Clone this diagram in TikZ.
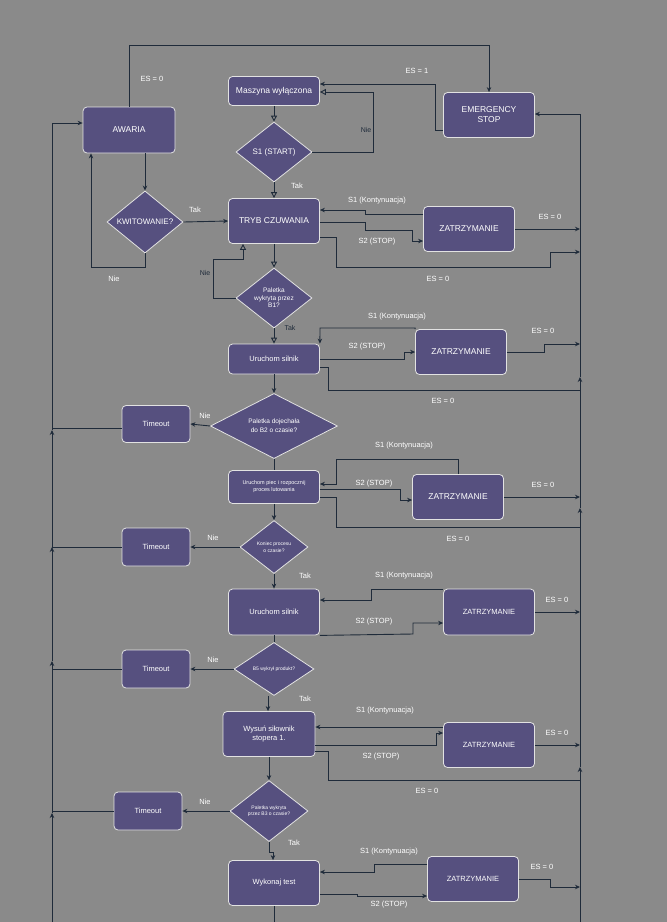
\documentclass[tikz,border=0pt]{standalone}
\usepackage{fontspec}
\setmainfont{Liberation Sans}
\usetikzlibrary{shapes.geometric,arrows.meta}
\definecolor{bg}{HTML}{8A8A8A}
\definecolor{pur}{HTML}{56507F}
\definecolor{bord}{HTML}{E2E2E2}
\definecolor{lnc}{HTML}{1F2B3A}
\begin{document}
\begin{tikzpicture}[x=1pt,y=-1pt,
  box/.style={rectangle,rounded corners=4,draw=bord,fill=pur,text=white,line width=0.8,align=center,font=\fontsize{8.5}{10}\selectfont,inner sep=1},
  dia/.style={diamond,draw=bord,fill=pur,text=white,line width=0.8,align=center,font=\fontsize{8}{9.5}\selectfont,inner sep=0},
  ln/.style={draw=lnc,line width=0.9},
  arr/.style={ln,-{Stealth[length=5,width=4.5]}},
  oarr/.style={ln,-{Triangle[open,length=6,width=6]}},
  lbl/.style={text=white,font=\fontsize{7.5}{9}\selectfont,inner sep=0},
  dlbl/.style={text=lnc,font=\fontsize{7}{8}\selectfont,inner sep=0}]
\fill[bg] (0,0) rectangle (667,922);
\useasboundingbox (0,0) rectangle (667,922);
% nodes
\node[box,minimum width=91,minimum height=29] (masz) at (274,91) {Maszyna wyłączona};
\node[box,minimum width=91,minimum height=45] (emerg) at (489,115) {EMERGENCY\\STOP};
\node[box,minimum width=92,minimum height=46] (awaria) at (129,130) {AWARIA};
\node[dia,minimum width=76,minimum height=60] (s1) at (274,152) {S1 (START)};
\node[dia,minimum width=76,minimum height=60] (kwit) at (145,222) {KWITOWANIE?};
\node[box,minimum width=91,minimum height=45] (tryb) at (274,221) {TRYB CZUWANIA};
\node[box,minimum width=91,minimum height=45] (zat1) at (469,229) {ZATRZYMANIE};
\node[dia,minimum width=76,minimum height=60,font=\fontsize{6.5}{7.5}\selectfont] (pal1) at (274,298) {Paletka\\wykryta przez\\B1?};
\node[box,minimum width=91,minimum height=30,font=\fontsize{7.5}{8}\selectfont] (sil1) at (274,359) {Uruchom silnik};
\node[box,minimum width=91,minimum height=45] (zat2) at (461,352) {ZATRZYMANIE};
\node[dia,minimum width=127,minimum height=62,font=\fontsize{6.5}{9}\selectfont] (pal2) at (274,426) {Paletka dojechała\\do B2 o czasie?};
\node[box,minimum width=68,minimum height=37,font=\fontsize{7.5}{8}\selectfont] (to1) at (156,424) {Timeout};
\node[box,minimum width=91,minimum height=33,font=\fontsize{5.5}{7}\selectfont] (piec) at (274,487) {Uruchom piec i rozpocznij\\proces lutowania};
\node[box,minimum width=91,minimum height=45] (zat3) at (458,497) {ZATRZYMANIE};
\node[dia,minimum width=68,minimum height=53,font=\fontsize{5}{6.5}\selectfont] (kon) at (274,547) {Koniec procesu\\o czasie?};
\node[box,minimum width=68,minimum height=38,font=\fontsize{7.5}{8}\selectfont] (to2) at (156,547) {Timeout};
\node[box,minimum width=91,minimum height=46,font=\fontsize{7.5}{8}\selectfont] (sil2) at (274,612) {Uruchom silnik};
\node[box,minimum width=91,minimum height=46,font=\fontsize{7.5}{8}\selectfont] (zat4) at (489,612) {ZATRZYMANIE};
\node[dia,minimum width=80,minimum height=53,font=\fontsize{5}{6.5}\selectfont] (b5) at (274,669) {B5 wykrył produkt?};
\node[box,minimum width=68,minimum height=38,font=\fontsize{7.5}{8}\selectfont] (to3) at (156,669) {Timeout};
\node[box,minimum width=92,minimum height=45,font=\fontsize{7.5}{9}\selectfont] (wys) at (269,734) {Wysuń siłownik\\stopera 1.};
\node[box,minimum width=91,minimum height=45,font=\fontsize{7.5}{8}\selectfont] (zat5) at (489,745) {ZATRZYMANIE};
\node[dia,minimum width=78,minimum height=61,font=\fontsize{5}{6.5}\selectfont] (b3) at (269,811) {Paletka wykryta\\przez B3 o czasie?};
\node[box,minimum width=68,minimum height=38,font=\fontsize{7.5}{8}\selectfont] (to4) at (148,811) {Timeout};
\node[box,minimum width=91,minimum height=45,font=\fontsize{7.5}{8}\selectfont] (wyk) at (274,883) {Wykonaj test};
\node[box,minimum width=91,minimum height=45,font=\fontsize{7.5}{8}\selectfont] (zat6) at (473,879) {ZATRZYMANIE};
% buses
\coordinate (lb) at (52,922);
\coordinate (rb) at (580,922);
\draw[arr] (lb) -- (52,813);
\draw[arr] (52,813) -- (52,661);
\draw[arr] (52,661) -- (52,547);
\draw[arr] (52,547) -- (52,430);
\draw[arr] (52,430) -- (52,123) -- (awaria.west |- 52,123);
\draw[arr] (rb) -- (580,767);
\draw[arr] (580,767) -- (580,508);
\draw[arr] (580,508) -- (580,377);
\draw[arr] (580,377) -- (580,114) -- (emerg.east |- 580,114);
% top part
\draw[arr] (awaria.north) -- (129,45) -- (489,45) -- (emerg.north);
\node[lbl] at (152,79) {ES = 0};
\draw[arr] (emerg.west |- 0,130) -- (435,130) -- (435,84) -- (masz.east |- 0,84);
\node[lbl] at (417,71) {ES = 1};
\draw[oarr] (masz.south) -- (s1.north);
\draw[oarr] (s1.east) -- (373,152) -- (373,92) -- (masz.east |- 0,92);
\node[dlbl] at (366,130) {Nie};
\draw[oarr] (s1.south) -- (tryb.north);
\node[lbl] at (297,186) {Tak};
\draw[arr] (awaria.south -| kwit.north) -- (kwit.north);
\draw[arr] (kwit.south) -- (145,267) -- (91,267) -- (awaria.south -| 91,0);
\node[lbl] at (114,279) {Nie};
\draw[arr] (kwit.east) -- (tryb.west);
\node[lbl] at (195,210) {Tak};
% tryb
\draw[arr] (zat1.west |- 0,214) -- (365,214) -- (365,210) -- (tryb.east |- 0,210);
\node[lbl] at (377,201) {S1 (Kontynuacja)};
\draw[arr] (tryb.east |- 0,222) -- (365,222) -- (365,230) -- (412,230) -- (412,241) -- (zat1.west |- 0,241);
\node[lbl] at (377,242) {S2 (STOP)};
\draw[arr] (tryb.east |- 0,237) -- (336,237) -- (336,267) -- (550,267) -- (550,252) -- (rb |- 0,252);
\node[lbl] at (438,279) {ES = 0};
\draw[arr] (zat1.east) -- (rb |- zat1.east);
\node[lbl] at (550,217) {ES = 0};
\draw[oarr] (tryb.south) -- (pal1.north);
\draw[oarr] (pal1.west) -- (213,298) -- (213,259) -- (243,259) -- (tryb.south -| 243,0);
\node[dlbl] at (205,273) {Nie};
\draw[oarr] (pal1.south) -- (sil1.north);
\node[dlbl] at (290,328) {Tak};
% silnik 1
\draw[arr] (zat2.north west) -- (zat2.north west |- 0,328) -- (320,328) -- (sil1.north east);
\node[lbl] at (397,317) {S1 (Kontynuacja)};
\draw[arr] (sil1.east |- 0,359) -- (404,359) -- (404,352) -- (zat2.west);
\node[lbl] at (367,347) {S2 (STOP)};
\draw[ln] (sil1.east |- 0,367) -- (328,367) -- (328,390) -- (580,390);
\node[lbl] at (443,401) {ES = 0};
\draw[arr] (zat2.east) -- (544,352) -- (544,344) -- (rb |- 0,344);
\node[lbl] at (543,331) {ES = 0};
\draw[arr] (sil1.south) -- (pal2.north);
% B2
\draw[arr] (pal2.west) -- (to1.east);
\node[lbl] at (205,416) {Nie};
\draw[ln] (to1.west |- 0,428) -- (52,428);
\draw[ln] (pal2.south) -- (piec.north);
% piec
\draw[arr] (zat3.north) -- (458,459) -- (336,459) -- (336,484) -- (piec.east |- 0,484);
\node[lbl] at (404,446) {S1 (Kontynuacja)};
\draw[arr] (piec.east |- 0,489) -- (400,489) -- (400,500) -- (zat3.west |- 0,500);
\node[lbl] at (374,484) {S2 (STOP)};
\draw[ln] (piec.east |- 0,497) -- (336,497) -- (336,527) -- (580,527);
\node[lbl] at (458,539) {ES = 0};
\draw[arr] (zat3.east) -- (rb |- zat3.east);
\node[lbl] at (543,485) {ES = 0};
\draw[arr] (piec.south) -- (kon.north);
% koniec
\draw[arr] (kon.west) -- (to2.east);
\node[lbl] at (213,538) {Nie};
\draw[ln] (to2.west) -- (52,547);
\draw[arr] (kon.south) -- (sil2.north);
\node[lbl] at (305,576) {Tak};
% silnik 2
\draw[arr] (zat4.west |- 0,589) -- (371,589) -- (371,600) -- (sil2.east |- 0,600);
\node[lbl] at (404,576) {S1 (Kontynuacja)};
\draw[arr] (sil2.south east) -- (413,634) -- (413,623) -- (zat4.west |- 0,623);
\node[lbl] at (374,622) {S2 (STOP)};
\draw[arr] (zat4.east) -- (rb |- zat4.east);
\node[lbl] at (557,600) {ES = 0};
\draw[ln] (sil2.south) -- (b5.north);
% b5
\draw[arr] (b5.west) -- (to3.east);
\node[lbl] at (213,660) {Nie};
\draw[ln] (to3.west) -- (52,669);
\draw[arr] (b5.south -| 268,0) -- (wys.north -| 268,0);
\node[lbl] at (305,699) {Tak};
% wysun
\draw[arr] (zat5.west |- 0,727) -- (318,727) -- (wys.east |- 0,727);
\node[lbl] at (385,711) {S1 (Kontynuacja)};
\draw[arr] (wys.east |- 0,745) -- (436,745) -- (436,733) -- (zat5.west |- 0,733);
\node[lbl] at (381,757) {S2 (STOP)};
\draw[ln] (wys.east |- 0,751) -- (328,751) -- (328,780) -- (580,780);
\node[lbl] at (427,791) {ES = 0};
\draw[arr] (zat5.east) -- (rb |- zat5.east);
\node[lbl] at (557,733) {ES = 0};
\draw[arr] (wys.south) -- (b3.north);
% b3
\draw[arr] (b3.west) -- (to4.east);
\node[lbl] at (205,802) {Nie};
\draw[ln] (to4.west) -- (52,811);
\draw[arr] (b3.south) -- (269,852) -- (273,852) -- (wyk.north -| 273,0);
\node[lbl] at (294,843) {Tak};
% wykonaj
\draw[arr] (zat6.west |- 0,864) -- (374,864) -- (374,872) -- (wyk.east |- 0,872);
\node[lbl] at (389,852) {S1 (Kontynuacja)};
\draw[arr] (wyk.east |- 0,894) -- (357,894) -- (357,896) -- (zat6.west |- 0,896);
\node[lbl] at (389,905) {S2 (STOP)};
\draw[arr] (zat6.east) -- (550,879) -- (550,887) -- (rb |- 0,887);
\node[lbl] at (542,867) {ES = 0};
\draw[ln] (wyk.south) -- (274,922);
\end{tikzpicture}
\end{document}
